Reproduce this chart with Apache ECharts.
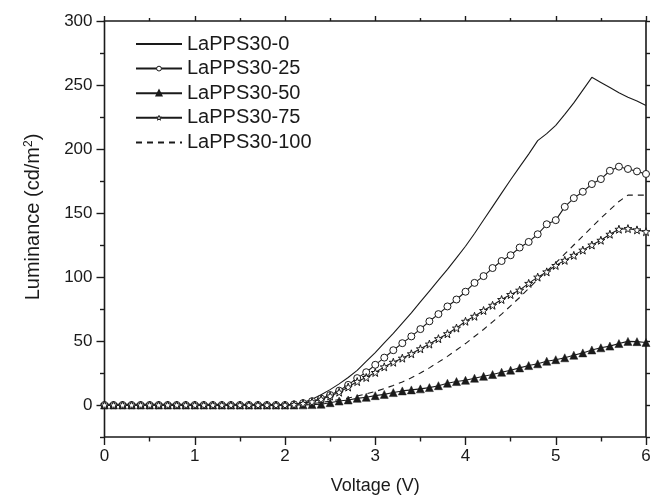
<!DOCTYPE html>
<html>
<head>
<meta charset="utf-8">
<script src="https://cdn.jsdelivr.net/npm/echarts@6/dist/echarts.min.js"></script>
<style>
html,body{margin:0;padding:0;background:#fff;}
#chart{width:651px;height:499px;}
</style>
</head>
<body>
<div id="chart"></div>
<script>
// Voltage (V), 0 to 6 in steps of 0.1
const voltage = [0,0.1,0.2,0.3,0.4,0.5,0.6,0.7,0.8,0.9,1.0,1.1,1.2,1.3,1.4,1.5,1.6,1.7,1.8,1.9,2.0,
  2.1,2.2,2.3,2.4,2.5,2.6,2.7,2.8,2.9,3.0,3.1,3.2,3.3,3.4,3.5,3.6,3.7,3.8,3.9,4.0,
  4.1,4.2,4.3,4.4,4.5,4.6,4.7,4.8,4.9,5.0,5.1,5.2,5.3,5.4,5.5,5.6,5.7,5.8,5.9,6.0];

const seriesNames = ['LaPPS30-0','LaPPS30-25','LaPPS30-50','LaPPS30-75','LaPPS30-100'];

const lum0 = [0,0,0,0,0,0,0,0,0,0,0,0,0,0,0,0,0,0,0,0,0,
  0.5,2,4.5,8,12,16.5,21.5,27,34,41,48.5,56,64,72,80.5,89,97.5,106,115,124,
  134,144.5,155,165.5,176,186,196,206.5,212,218.5,227,236,246,256,252,248,244,240.5,237.5,234];

const lum25 = [0,0,0,0,0,0,0,0,0,0,0,0,0,0,0,0,0,0,0,0,0,
  0.5,1.5,3,5,7.8,11.2,15.7,21,25.6,31.4,37,42.8,48.3,53.6,59.3,65.4,71,77,82.4,88.5,
  95.4,100.7,107,112.5,117,123,127.4,133.4,141.2,144.4,154.8,161.6,166.6,172.6,176.5,183,186.2,184.4,182.5,180.5];

const lum50 = [0,0,0,0,0,0,0,0,0,0,0,0,0,0,0,0,0,0,0,0,0,
  0,0.1,0.3,0.6,1.8,3.1,3.9,5.2,6,7.3,8.3,9.7,11,11.8,12.6,13.6,15.1,17,18.3,19.3,
  20.9,22.4,23.8,25.6,27.2,29,30.8,32.2,34.2,35.4,36.9,38.9,40.7,43,44.7,46,48,49.7,49.5,48.8];

const lum75 = [0,0,0,0,0,0,0,0,0,0,0,0,0,0,0,0,0,0,0,0,0,
  0.3,1.2,2.5,4.5,7,10,14,18.3,21.5,25.4,29.8,33.4,36.6,40,43.9,47.6,51.8,55.7,60.1,65.4,
  69.3,73.8,77.9,82.4,86.3,89.7,95,99.9,104,109,113,116.9,121,125,128.7,133.4,137.3,137.8,136.8,135.4];

const lum100 = [0,0,0,0,0,0,0,0,0,0,0,0,0,0,0,0,0,0,0,0,0,
  0,0.5,1,2,3,4.2,5.5,7,8.7,10.5,12.8,15.3,18,21.3,25,29,33.5,38,43,48,
  53.5,59,65,71,77.5,84,91,98,104.5,111,118,125,132,139,146,152.5,159,164,164,164];

const xTicks = [0,1,2,3,4,5,6];
const yMajorTicks = [0,50,100,150,200,250,300];
const yMinorTicks = [-25,25,75,125,175,225,275];

const pairs = v => voltage.map((x, i) => [x, v[i]]);
const ink = '#1a1a1a';
const font = 'Liberation Sans, Arial, Helvetica, sans-serif';

const chart = echarts.init(document.getElementById('chart'), null, {renderer:'canvas'});

const noLine = {show:false, onZero:false};

function xAx(pos, labels) {
  return {
    type:'value', min:0, max:6, interval:1, position:pos,
    axisLine: noLine,
    axisTick:{show:true, inside:false, length: labels ? 8 : 5, lineStyle:{color:ink, width:1.4}},
    minorTick:{show:true, splitNumber:2, length: labels ? 4.5 : 3, lineStyle:{color:ink, width:1.4}},
    splitLine:{show:false}, minorSplitLine:{show:false},
    axisLabel:{show:labels, fontSize:17, margin:11, color:ink, fontFamily:font},
    name: labels ? 'Voltage (V)' : '',
    nameLocation:'middle', nameGap:40,
    nameTextStyle:{fontSize:18, color:ink, fontFamily:font}
  };
}
function yAxLeft(major) {
  return {
    type:'value', min:-25, max:300, position:'left',
    axisLine: noLine,
    axisTick:{show:true, inside:false, length: major ? 8 : 4.5,
      customValues: major ? yMajorTicks : yMinorTicks,
      lineStyle:{color:ink, width:1.4}},
    splitLine:{show:false},
    axisLabel:{show:major, customValues: yMajorTicks, fontSize:17, margin:12, color:ink, fontFamily:font},
    name: major ? 'Luminance (cd/m{sup|2})' : '',
    nameLocation:'middle', nameGap:60, nameRotate:90,
    nameTextStyle:{fontSize:20, color:ink, fontFamily:font, padding:[0,0,0,24],
      rich:{sup:{fontSize:12, verticalAlign:'top', padding:[0,0,10,0], color:ink, fontFamily:font}}}
  };
}
function yAxRight() {
  return {
    type:'value', min:-25, max:300, interval:25, position:'right',
    axisLine: noLine,
    axisTick:{show:true, inside:false, length:4, lineStyle:{color:ink, width:1.4}},
    splitLine:{show:false},
    axisLabel:{show:false}
  };
}

const base = {type:'line', xAxisIndex:0, yAxisIndex:0, lineStyle:{color:ink, width:1.1},
  itemStyle:{color:ink, borderColor:ink}, emphasis:{disabled:true}, animation:false};

const hiddenSym = {color:'rgba(0,0,0,0)', borderColor:'rgba(0,0,0,0)', borderWidth:0};
const openSym = {color:'#fff', borderColor:ink, borderWidth:1};

chart.setOption({
  animation:false,
  backgroundColor:'#fff',
  grid:{left:104.5, right:5, top:21, bottom:62, outerBoundsMode:'none', containLabel:false,
    show:true, borderColor:ink, borderWidth:1.6, backgroundColor:'rgba(0,0,0,0)'},
  legend:{
    orient:'vertical', left:130, top:29, itemWidth:46, itemHeight:6, itemGap:4.6,
    textStyle:{fontSize:20, color:ink, fontFamily:font, lineHeight:20, padding:[0,0,0,0]},
    data:[
      {name:seriesNames[0], itemStyle:hiddenSym},
      {name:seriesNames[1], itemStyle:openSym},
      {name:seriesNames[2]},
      {name:seriesNames[3], itemStyle:openSym},
      {name:seriesNames[4], itemStyle:hiddenSym}
    ]
  },
  xAxis:[xAx('bottom', true), xAx('top', false)],
  yAxis:[yAxLeft(true), yAxRight(), yAxLeft(false)],
  series:[
    Object.assign({}, base, {name:seriesNames[0], data:pairs(lum0), symbol:'none'}),
    Object.assign({}, base, {name:seriesNames[1], data:pairs(lum25), symbol:'circle', symbolSize:7,
      itemStyle:openSym}),
    Object.assign({}, base, {name:seriesNames[2], data:pairs(lum50), symbol:'triangle', symbolSize:8,
      itemStyle:{color:ink, borderColor:ink, borderWidth:0.5}}),
    Object.assign({}, base, {name:seriesNames[3], data:pairs(lum75),
      symbol:'path://M0,-10 L2.35,-3.24 L9.51,-3.09 L3.8,1.24 L5.88,8.09 L0,4 L-5.88,8.09 L-3.8,1.24 L-9.51,-3.09 L-2.35,-3.24 Z',
      symbolSize:8, itemStyle:openSym}),
    Object.assign({}, base, {name:seriesNames[4], data:pairs(lum100), symbol:'none',
      lineStyle:{color:ink, width:1.1, type:[6,5]}})
  ]
});
</script>
</body>
</html>
